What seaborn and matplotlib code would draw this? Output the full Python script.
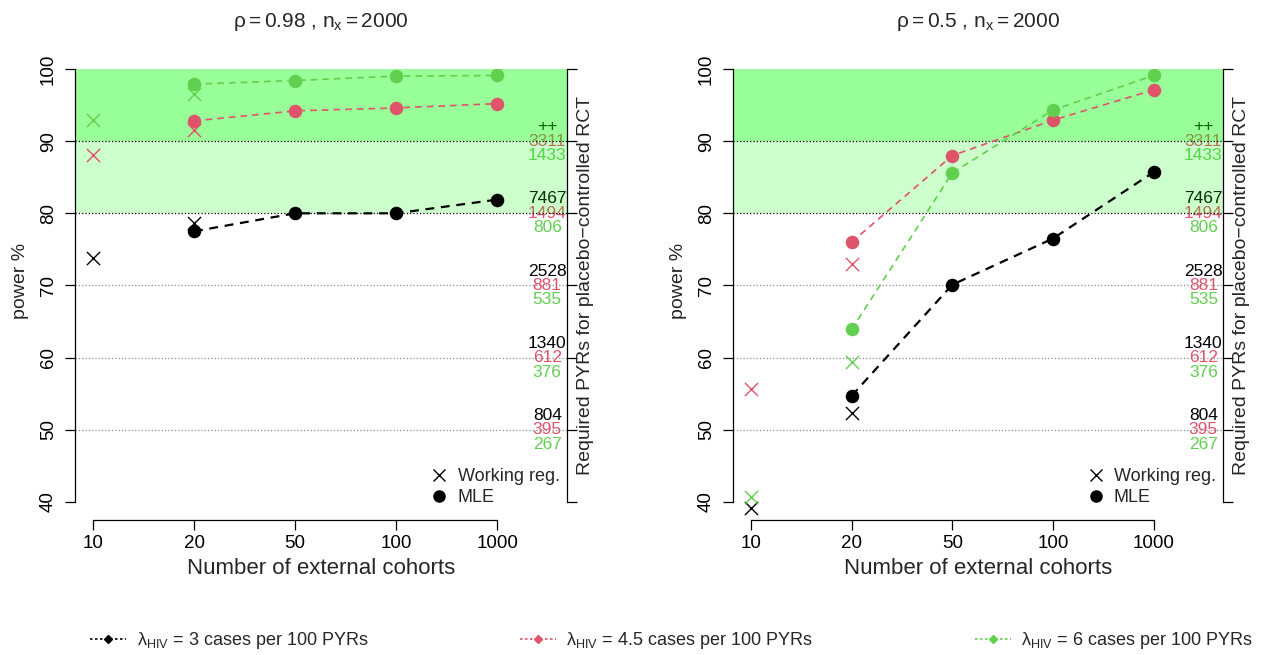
import numpy as np
import pandas as pd
import matplotlib
matplotlib.use("Agg")
import matplotlib.pyplot as plt
from matplotlib.lines import Line2D
import seaborn as sns

# ── Data ──────────────────────────────────────────────────────────────────────
cohorts = ["10", "20", "50", "100", "1000"]
rate_labels = ["3", "4.5", "6"]
rate_colors = ["#000000", "#DF536B", "#61D04F"]

# MLE power (%) at 20, 50, 100, 1000 external cohorts
mle_rho098_l3 = [77.5, 80.0, 80.0, 81.9]
mle_rho098_l45 = [92.8, 94.2, 94.6, 95.2]
mle_rho098_l6 = [97.9, 98.4, 99.0, 99.1]
mle_rho05_l3 = [54.7, 70.1, 76.5, 85.7]
mle_rho05_l45 = [76.0, 88.0, 92.9, 97.1]
mle_rho05_l6 = [63.9, 85.6, 94.3, 99.1]

# Working regression power (%) at 10, 20 external cohorts
wr_rho098_l3 = [73.8, 78.7]
wr_rho098_l45 = [88.1, 91.6]
wr_rho098_l6 = [92.9, 96.6]
wr_rho05_l3 = [39.2, 52.3]
wr_rho05_l45 = [55.6, 73.0]
wr_rho05_l6 = [40.7, 59.4]

# required PYRs for a placebo-controlled RCT, by power level
pyr_levels = [90, 80, 70, 60, 50]
pyr_l3 = ["++", "7467", "2528", "1340", "804"]
pyr_l45 = ["3311", "1494", "881", "612", "395"]
pyr_l6 = ["1433", "806", "535", "376", "267"]

panels = [
    ("0.98", [mle_rho098_l3, mle_rho098_l45, mle_rho098_l6],
     [wr_rho098_l3, wr_rho098_l45, wr_rho098_l6]),
    ("0.5", [mle_rho05_l3, mle_rho05_l45, mle_rho05_l6],
     [wr_rho05_l3, wr_rho05_l45, wr_rho05_l6]),
]

# ── Style ─────────────────────────────────────────────────────────────────────
sns.set_theme(style="white")
plt.rcParams["font.family"] = ["Liberation Sans", "DejaVu Sans"]
plt.rcParams["mathtext.fontset"] = "custom"
plt.rcParams["mathtext.rm"] = "Liberation Sans"
plt.rcParams["mathtext.it"] = "Liberation Sans:italic"

fig = plt.figure(figsize=(12.64, 6.55), dpi=100)
ax_boxes = [[0.0593, 0.2061, 0.3892, 0.6886],
            [0.5799, 0.2061, 0.3877, 0.6886]]
y_lo, y_hi = 37.5, 100
label_mid = (70 - y_lo) / (y_hi - y_lo)

for (rho, mle_sets, wr_sets), box in zip(panels, ax_boxes):
    ax = fig.add_axes(box)

    # long tables for seaborn
    mle_df = pd.concat([
        pd.DataFrame({"pos": np.arange(1, 5), "power": v, "rate": r})
        for v, r in zip(mle_sets, rate_labels)])
    wr_df = pd.concat([
        pd.DataFrame({"pos": np.arange(0, 2), "power": v, "rate": r})
        for v, r in zip(wr_sets, rate_labels)])

    # shaded target zones (drawn over the PYR labels, like the original)
    ax.axhspan(90, 100, color=(0, 1, 0), alpha=0.4, lw=0, zorder=2)
    ax.axhspan(80, 90, color=(0, 1, 0), alpha=0.2, lw=0, zorder=2)
    for lv in [50, 60, 70]:
        ax.axhline(lv, color="#8c8c8c", ls=":", lw=0.9, zorder=2.5)
    for lv in [80, 90]:
        ax.axhline(lv, color="black", ls=":", lw=0.9, zorder=2.5)

    for r, c in zip(rate_labels, rate_colors):
        sub = mle_df[mle_df["rate"] == r]
        sns.lineplot(data=sub, x="pos", y="power", color=c, ax=ax,
                     linestyle=(0, (4, 3)), lw=1.6 if r == "3" else 1.2,
                     zorder=3, legend=False)
        sns.scatterplot(data=sub, x="pos", y="power", color=c, ax=ax,
                        s=95, marker="o", edgecolor=c, linewidth=0,
                        zorder=4, legend=False)
        subw = wr_df[wr_df["rate"] == r]
        sns.scatterplot(data=subw, x="pos", y="power", color=c, ax=ax,
                        s=90, marker="x", linewidth=1.0,
                        zorder=4, legend=False, clip_on=False)

    # PYR labels along the right edge
    for lv, t3, t45, t6 in zip(pyr_levels, pyr_l3, pyr_l45, pyr_l6):
        ax.text(4.495, lv + 2.0, t3, color=rate_colors[0], ha="center",
                va="center", fontsize=12.5, zorder=1)
        ax.text(4.495, lv, t45, color=rate_colors[1], ha="center",
                va="center", fontsize=12.5, zorder=1)
        ax.text(4.495, lv - 2.0, t6, color=rate_colors[2], ha="center",
                va="center", fontsize=12.5, zorder=1)

    ax.set_xlim(-0.178, 4.69)
    ax.set_ylim(y_lo, y_hi)
    ax.set_xticks(range(5))
    ax.set_xticklabels(cohorts, fontsize=13.5)
    ax.set_yticks(range(40, 101, 10))
    ax.set_yticklabels([str(v) for v in range(40, 101, 10)], fontsize=13.5,
                       rotation=90, va="center")
    ax.tick_params(axis="both", direction="out", length=7, width=0.9,
                   color="black", labelcolor="black", left=True, bottom=True)
    ax.tick_params(axis="x", pad=4)
    ax.tick_params(axis="y", pad=6)
    for side in ["top", "right"]:
        ax.spines[side].set_visible(False)
    ax.spines["left"].set_bounds(40, 100)
    ax.spines["bottom"].set_bounds(0, 4)
    for side in ["left", "bottom"]:
        ax.spines[side].set_color("black")
        ax.spines[side].set_linewidth(0.9)
    ax.set_xlabel("Number of external cohorts", fontsize=16, labelpad=4)
    ax.set_ylabel("power %", fontsize=14)
    ax.yaxis.set_label_coords(-0.093, label_mid + 0.01)
    ax.set_title(r"$\mathregular{\rho = %s}$ , $\mathregular{n_x = 2000}$" % rho,
                 fontsize=15, pad=30)

    # right axis: tick marks and label only
    ax2 = ax.twinx()
    ax2.set_ylim(y_lo, y_hi)
    ax2.set_yticks(range(40, 101, 10))
    ax2.set_yticklabels([])
    ax2.tick_params(axis="y", direction="out", length=7, width=0.9,
                    color="black", right=True, pad=0)
    for side in ["top", "left", "bottom"]:
        ax2.spines[side].set_visible(False)
    ax2.spines["right"].set_bounds(40, 100)
    ax2.spines["right"].set_color("black")
    ax2.spines["right"].set_linewidth(0.9)
    ax2.set_ylabel("Required PYRs for placebo\u2212controlled RCT", fontsize=14)
    ax2.yaxis.set_label_coords(1.021, label_mid)

    # method legend inside the panel
    handles = [
        Line2D([0], [0], ls="none", marker="x", color="black", markersize=9,
               markeredgewidth=1.0),
        Line2D([0], [0], ls="none", marker="o", color="black", markersize=8),
    ]
    ax.legend(handles, ["Working reg.", "MLE"], loc="lower right",
              bbox_to_anchor=(0.985, 0.03), frameon=False, fontsize=13,
              handlelength=0.8, handletextpad=0.6, labelspacing=0.25,
              borderaxespad=0, borderpad=0)

# ── Bottom legend ─────────────────────────────────────────────────────────────
legend_x = [0.071, 0.411, 0.771]
for c, r, lx in zip(rate_colors, rate_labels, legend_x):
    h = Line2D([0], [0], color=c, ls=(0, (1.5, 1.5)), lw=1.2, marker="D",
               markersize=4)
    fig.legend([h], [r"$\mathregular{\lambda_{HIV}}$ = %s cases per 100 PYRs" % r],
               loc="center left", bbox_to_anchor=(lx, 0.0214), frameon=False,
               fontsize=13, handlelength=2.0, handletextpad=0.6,
               borderpad=0, borderaxespad=0)

fig.savefig("out.png", dpi=100)
